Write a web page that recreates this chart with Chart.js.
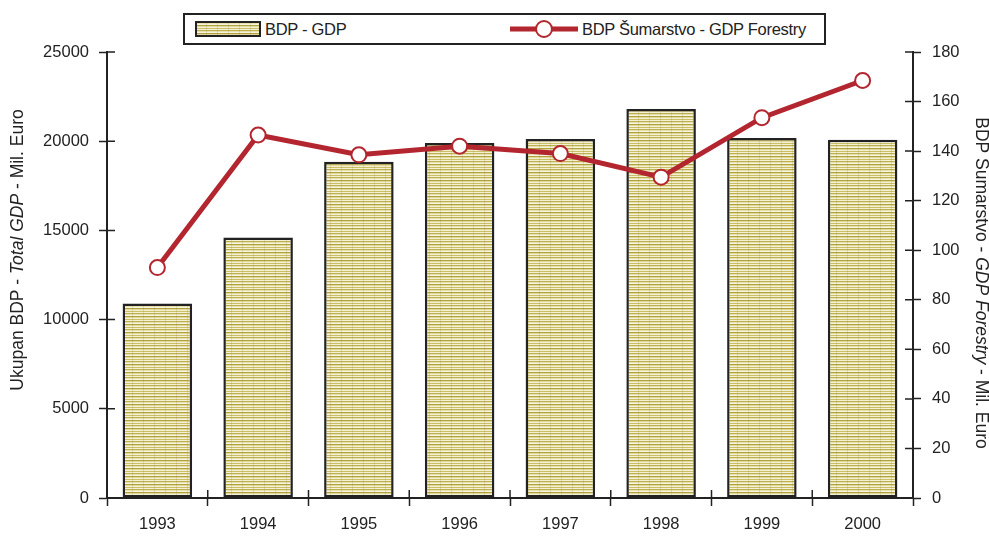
<!DOCTYPE html>
<html>
<head>
<meta charset="utf-8">
<script src="https://cdn.jsdelivr.net/npm/chart.js@4"></script>
<style>
  body { margin: 0; background: #fff; font-family: "Liberation Sans", Arial, sans-serif; }
  #wrap { position: relative; width: 989px; height: 538px; }
  #legend {
    position: absolute; left: 183px; top: 13px; width: 639px; height: 28px;
    border: 2px solid #222; background: #fff; font-size: 16.5px; color: #222; letter-spacing: -0.3px;
  }
  #legend .item { position: absolute; top: 0; height: 28px; display: flex; align-items: center; }
  #legend canvas { display: block; margin-right: 4px; }
</style>
</head>
<body>
<div id="wrap">
  <canvas id="chart" width="989" height="538"></canvas>
  <div id="legend">
    <div class="item" style="left:10px"><canvas id="swBar" width="66" height="16"></canvas><span>BDP - GDP</span></div>
    <div class="item" style="left:325px"><canvas id="swLine" width="68" height="22"></canvas><span>BDP Šumarstvo - GDP Forestry</span></div>
  </div>
</div>
<script>
// ---- data ----
const years = ['1993', '1994', '1995', '1996', '1997', '1998', '1999', '2000'];
const gdpTotal = [10900, 14600, 18850, 19900, 20130, 21800, 20180, 20080];
const gdpForestry = [93, 146.5, 138.5, 142, 139, 129.5, 153.5, 168.5];
const leftTicks = [0, 5000, 10000, 15000, 20000, 25000];
const rightTicks = [0, 20, 40, 60, 80, 100, 120, 140, 160, 180];

const RED = '#b3262f';
const INK = '#222';
const FONT = '"Liberation Sans", Arial, sans-serif';

// striped fill like the printed bars
function makePattern(ctx) {
    const c = document.createElement('canvas');
    c.width = 11; c.height = 8;
    const p = c.getContext('2d');
    const rows = ['#f5f1d6', '#bdb04f', '#e8e1ae', '#f7f4e2', '#b0a23e', '#e2d99c', '#f3efd2', '#cbbf68'];
    rows.forEach((col, i) => { p.fillStyle = col; p.fillRect(0, i, 11, 1); });
    p.fillStyle = 'rgba(150,140,50,0.22)';
    p.fillRect(0, 0, 1, 8);
    return ctx.createPattern(c, 'repeat');
}

// axis titles with an italic middle part
function drawTitle(ctx, parts, x, y, angle) {
    ctx.save();
    ctx.translate(x, y);
    ctx.rotate(angle);
    ctx.fillStyle = INK;
    ctx.textBaseline = 'middle';
    let total = 0;
    parts.forEach(p => { ctx.font = (p.i ? 'italic ' : '') + '17.5px ' + FONT; total += ctx.measureText(p.t).width; });
    let cx = -total / 2;
    parts.forEach(p => {
        ctx.font = (p.i ? 'italic ' : '') + '17.5px ' + FONT;
        ctx.fillText(p.t, cx, 0);
        cx += ctx.measureText(p.t).width;
    });
    ctx.restore();
}

const extras = {
    id: 'extras',
    afterDraw(chart) {
        const ctx = chart.ctx;
        const { x, y, y1 } = chart.scales;
        ctx.save();
        ctx.strokeStyle = INK;
        ctx.lineWidth = 1.5;
        // inner half of the crossing ticks
        ctx.beginPath();
        leftTicks.forEach(v => { const py = y.getPixelForValue(v); ctx.moveTo(y.right, py); ctx.lineTo(y.right + 8, py); });
        rightTicks.forEach(v => { const py = y1.getPixelForValue(v); ctx.moveTo(y1.left, py); ctx.lineTo(y1.left - 8, py); });
        for (let i = 0; i <= years.length; i++) {
            const px = x.left + (x.right - x.left) * i / years.length;
            ctx.moveTo(px, x.top); ctx.lineTo(px, x.top - 8);
        }
        ctx.stroke();
        ctx.restore();
        drawTitle(ctx, [{ t: 'Ukupan BDP - ' }, { t: 'Total GDP', i: true }, { t: ' - Mil. Euro' }], 18, 250, -Math.PI / 2);
        drawTitle(ctx, [{ t: 'BDP Sumarstvo - ' }, { t: 'GDP Forestry', i: true }, { t: ' - Mil. Euro' }], 981, 283, Math.PI / 2);
    }
};

const canvas = document.getElementById('chart');
const ctx = canvas.getContext('2d');
const pattern = makePattern(ctx);

const tickFont = { family: FONT, size: 16.5 };
const axisGrid = { drawOnChartArea: false, drawTicks: true, tickLength: 8, tickColor: INK, tickWidth: 1.5 };
const axisBorder = { display: true, color: INK, width: 2 };
const plain = v => String(v);

new Chart(ctx, {
    data: {
        labels: years,
        datasets: [
            {
                type: 'line',
                label: 'BDP Šumarstvo - GDP Forestry',
                data: gdpForestry,
                yAxisID: 'y1',
                borderColor: RED,
                borderWidth: 5,
                pointRadius: 7.5,
                pointBackgroundColor: '#fff',
                pointBorderColor: RED,
                pointBorderWidth: 2,
                tension: 0,
                order: 0
            },
            {
                type: 'bar',
                label: 'BDP - GDP',
                data: gdpTotal,
                yAxisID: 'y',
                backgroundColor: pattern,
                borderColor: INK,
                borderWidth: 2.5,
                borderSkipped: false,
                barPercentage: 0.69,
                categoryPercentage: 1,
                order: 1
            }
        ]
    },
    options: {
        responsive: false,
        animation: false,
        layout: { padding: { top: 52, left: 0, right: 0, bottom: 0 } },
        plugins: { legend: { display: false }, tooltip: { enabled: false } },
        scales: {
            x: {
                grid: Object.assign({}, axisGrid, { offset: true }),
                border: axisBorder,
                ticks: { font: tickFont, color: INK, padding: 9 },
                afterFit(s) { s.height = 40; }
            },
            y: {
                position: 'left',
                min: 0, max: 25000,
                grid: axisGrid,
                border: axisBorder,
                ticks: { font: tickFont, color: INK, stepSize: 5000, padding: 10, callback: plain },
                afterFit(s) { s.width = 107; }
            },
            y1: {
                position: 'right',
                min: 0, max: 180,
                grid: axisGrid,
                border: axisBorder,
                ticks: { font: tickFont, color: INK, stepSize: 20, padding: 11, callback: plain },
                afterFit(s) { s.width = 76; }
            }
        }
    },
    plugins: [extras]
});

// legend swatches
(function () {
    const b = document.getElementById('swBar').getContext('2d');
    b.fillStyle = makePattern(b);
    b.fillRect(1, 1, 64, 14);
    b.strokeStyle = INK; b.lineWidth = 2;
    b.strokeRect(1, 1, 64, 14);
    const l = document.getElementById('swLine').getContext('2d');
    l.strokeStyle = RED; l.lineWidth = 5;
    l.beginPath(); l.moveTo(0, 11); l.lineTo(68, 11); l.stroke();
    l.fillStyle = '#fff'; l.lineWidth = 2;
    l.beginPath(); l.arc(34, 11, 8, 0, Math.PI * 2); l.fill(); l.stroke();
})();
</script>
</body>
</html>
